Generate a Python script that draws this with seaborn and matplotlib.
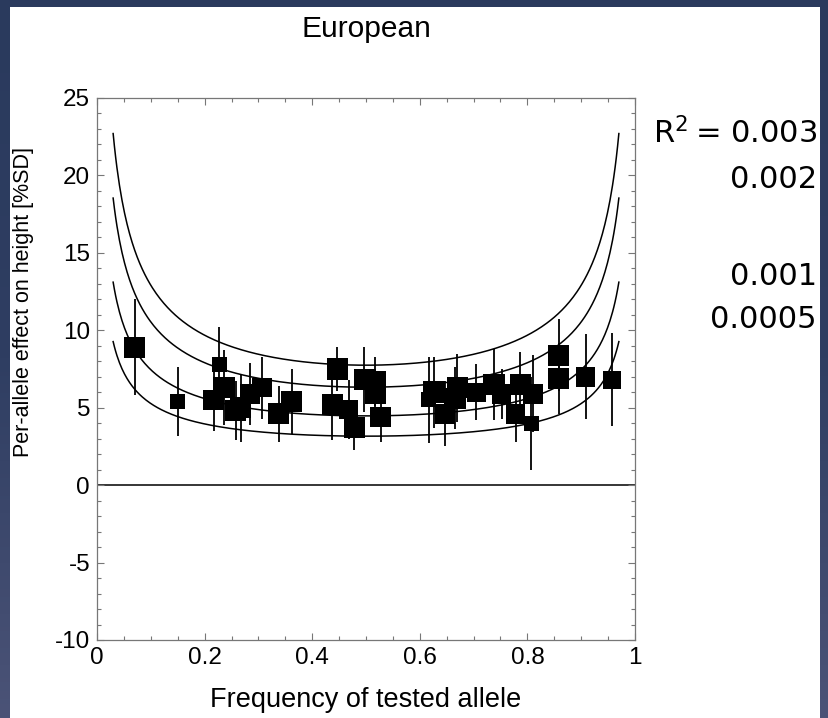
import numpy as np
import pandas as pd
import matplotlib
matplotlib.use("Agg")
import matplotlib.pyplot as plt
import seaborn as sns
from matplotlib.patches import Rectangle
from matplotlib.ticker import MultipleLocator
from matplotlib.colors import LinearSegmentedColormap

# ---------------- data ----------------
freq = [0.07, 0.15, 0.227, 0.236, 0.217, 0.258, 0.267, 0.284, 0.306, 0.338,
        0.362, 0.447, 0.437, 0.468, 0.478, 0.497, 0.517, 0.517, 0.527, 0.626,
        0.617, 0.647, 0.670, 0.665, 0.705, 0.738, 0.752, 0.787, 0.778, 0.811,
        0.807, 0.858, 0.858, 0.908, 0.958]
effect = [8.9, 5.4, 7.8, 6.3, 5.5, 4.8, 5.0, 5.9, 6.3, 4.6,
          5.4, 7.5, 5.2, 4.9, 3.7, 6.8, 6.7, 5.9, 4.4, 6.0,
          5.5, 4.6, 6.3, 5.6, 6.0, 6.5, 5.9, 6.5, 4.6, 5.9,
          4.0, 8.4, 6.9, 7.0, 6.8]
err = [3.1, 2.2, 2.4, 2.4, 2.0, 1.9, 2.2, 2.0, 2.0, 1.8,
       2.1, 1.4, 2.3, 1.9, 1.4, 2.1, 1.6, 1.6, 1.6, 2.3,
       2.8, 2.1, 2.2, 2.0, 1.8, 2.3, 1.6, 2.1, 1.8, 2.5,
       3.0, 2.35, 2.3, 2.75, 3.0]
weight = [0.95, 0.66, 0.68, 0.98, 0.95, 0.95, 0.95, 0.9, 0.9, 0.95,
          0.95, 0.98, 0.95, 0.88, 0.95, 0.95, 0.95, 0.95, 0.95, 0.98,
          0.68, 0.9, 0.98, 0.98, 0.88, 0.98, 0.9, 0.95, 0.9, 0.9,
          0.68, 0.95, 0.95, 0.9, 0.82]

r2_levels = [0.003, 0.002, 0.001, 0.0005]
r2_labels = ["R$^2$\u2009= 0.003", "0.002", "0.001", "0.0005"]

title = "European"
xlabel = "Frequency of tested allele"
ylabel = "Per-allele effect on height [%SD]"
xtick_vals = [0, 0.2, 0.4, 0.6, 0.8, 1.0]
xtick_labels = ["0", "0.2", "0.4", "0.6", "0.8", "1"]

# ---------------- figure ----------------
plt.rcParams["axes.unicode_minus"] = False
plt.rcParams["mathtext.fontset"] = "dejavusans"

W, H = 829, 718
fig = plt.figure(figsize=(W / 100, H / 100), dpi=100)

# slide background (navy gradient) + white panel
bg = fig.add_axes([0, 0, 1, 1], zorder=-10)
grad = np.linspace(0, 1, 256).reshape(-1, 1)
cmap = LinearSegmentedColormap.from_list("navy", ["#2a3a5d", "#2f3e62", "#4b5377"])
bg.imshow(grad, aspect="auto", cmap=cmap, extent=[0, 1, 0, 1], origin="upper")
bg.set_axis_off()
bg.add_patch(Rectangle((10 / W, 0), 810 / W, (H - 7) / H, transform=bg.transAxes,
                       facecolor="white", edgecolor="none"))

ax = fig.add_axes([97 / W, (H - 640) / H, 538 / W, 542 / H])
ax.set_facecolor("white")

font = "Liberation Sans"

# iso-R^2 curves
p_grid = np.linspace(0.03, 0.97, 400)
for r2 in r2_levels:
    beta = 100 * np.sqrt(r2 / (2 * p_grid * (1 - p_grid)))
    sns.lineplot(x=p_grid, y=beta, ax=ax, color="black", linewidth=1.1, zorder=2)

ax.axhline(0, color="black", linewidth=1.1, zorder=1)

# error bars
ax.errorbar(freq, effect, yerr=err, fmt="none", ecolor="black", elinewidth=1.3,
            capsize=0, zorder=3)

# squares
side_pt = np.array(weight) * 22 * 0.72
sns.scatterplot(x=freq, y=effect, ax=ax, marker="s", color="black",
                s=side_pt ** 2, linewidth=0, zorder=4, legend=False)

ax.set_xlim(0, 1)
ax.set_ylim(-10, 25)
ax.xaxis.set_minor_locator(MultipleLocator(0.05))
ax.yaxis.set_major_locator(MultipleLocator(5))
ax.yaxis.set_minor_locator(MultipleLocator(1))
ax.set_xticks(xtick_vals)
ax.set_xticklabels(xtick_labels)
ax.tick_params(which="both", direction="in", top=True, right=True,
               color="#777777", width=0.8)
ax.tick_params(which="major", length=5, labelsize=17.5, pad=5)
ax.tick_params(which="minor", length=3)
for lab in ax.get_xticklabels() + ax.get_yticklabels():
    lab.set_fontfamily(font)
for s in ax.spines.values():
    s.set_color("#777777")
    s.set_linewidth(0.9)

ax.set_xlabel(xlabel, fontsize=19.5, fontfamily=font, labelpad=13)
ax.set_ylabel(ylabel, fontsize=15.5, fontfamily=font)
ax.yaxis.set_label_coords(-0.118, (640 - 302) / 542)
ax.set_title(title, fontsize=21.5, fontfamily=font, pad=44)

# R^2 annotations
label_y = [133, 180, 277, 320]
for txt, yy in zip(r2_labels, label_y):
    fig.text(817 / W, 1 - yy / H, txt, ha="right", va="center",
             fontsize=22, fontfamily="DejaVu Sans", color="black")

fig.savefig("out.png", dpi=100)
